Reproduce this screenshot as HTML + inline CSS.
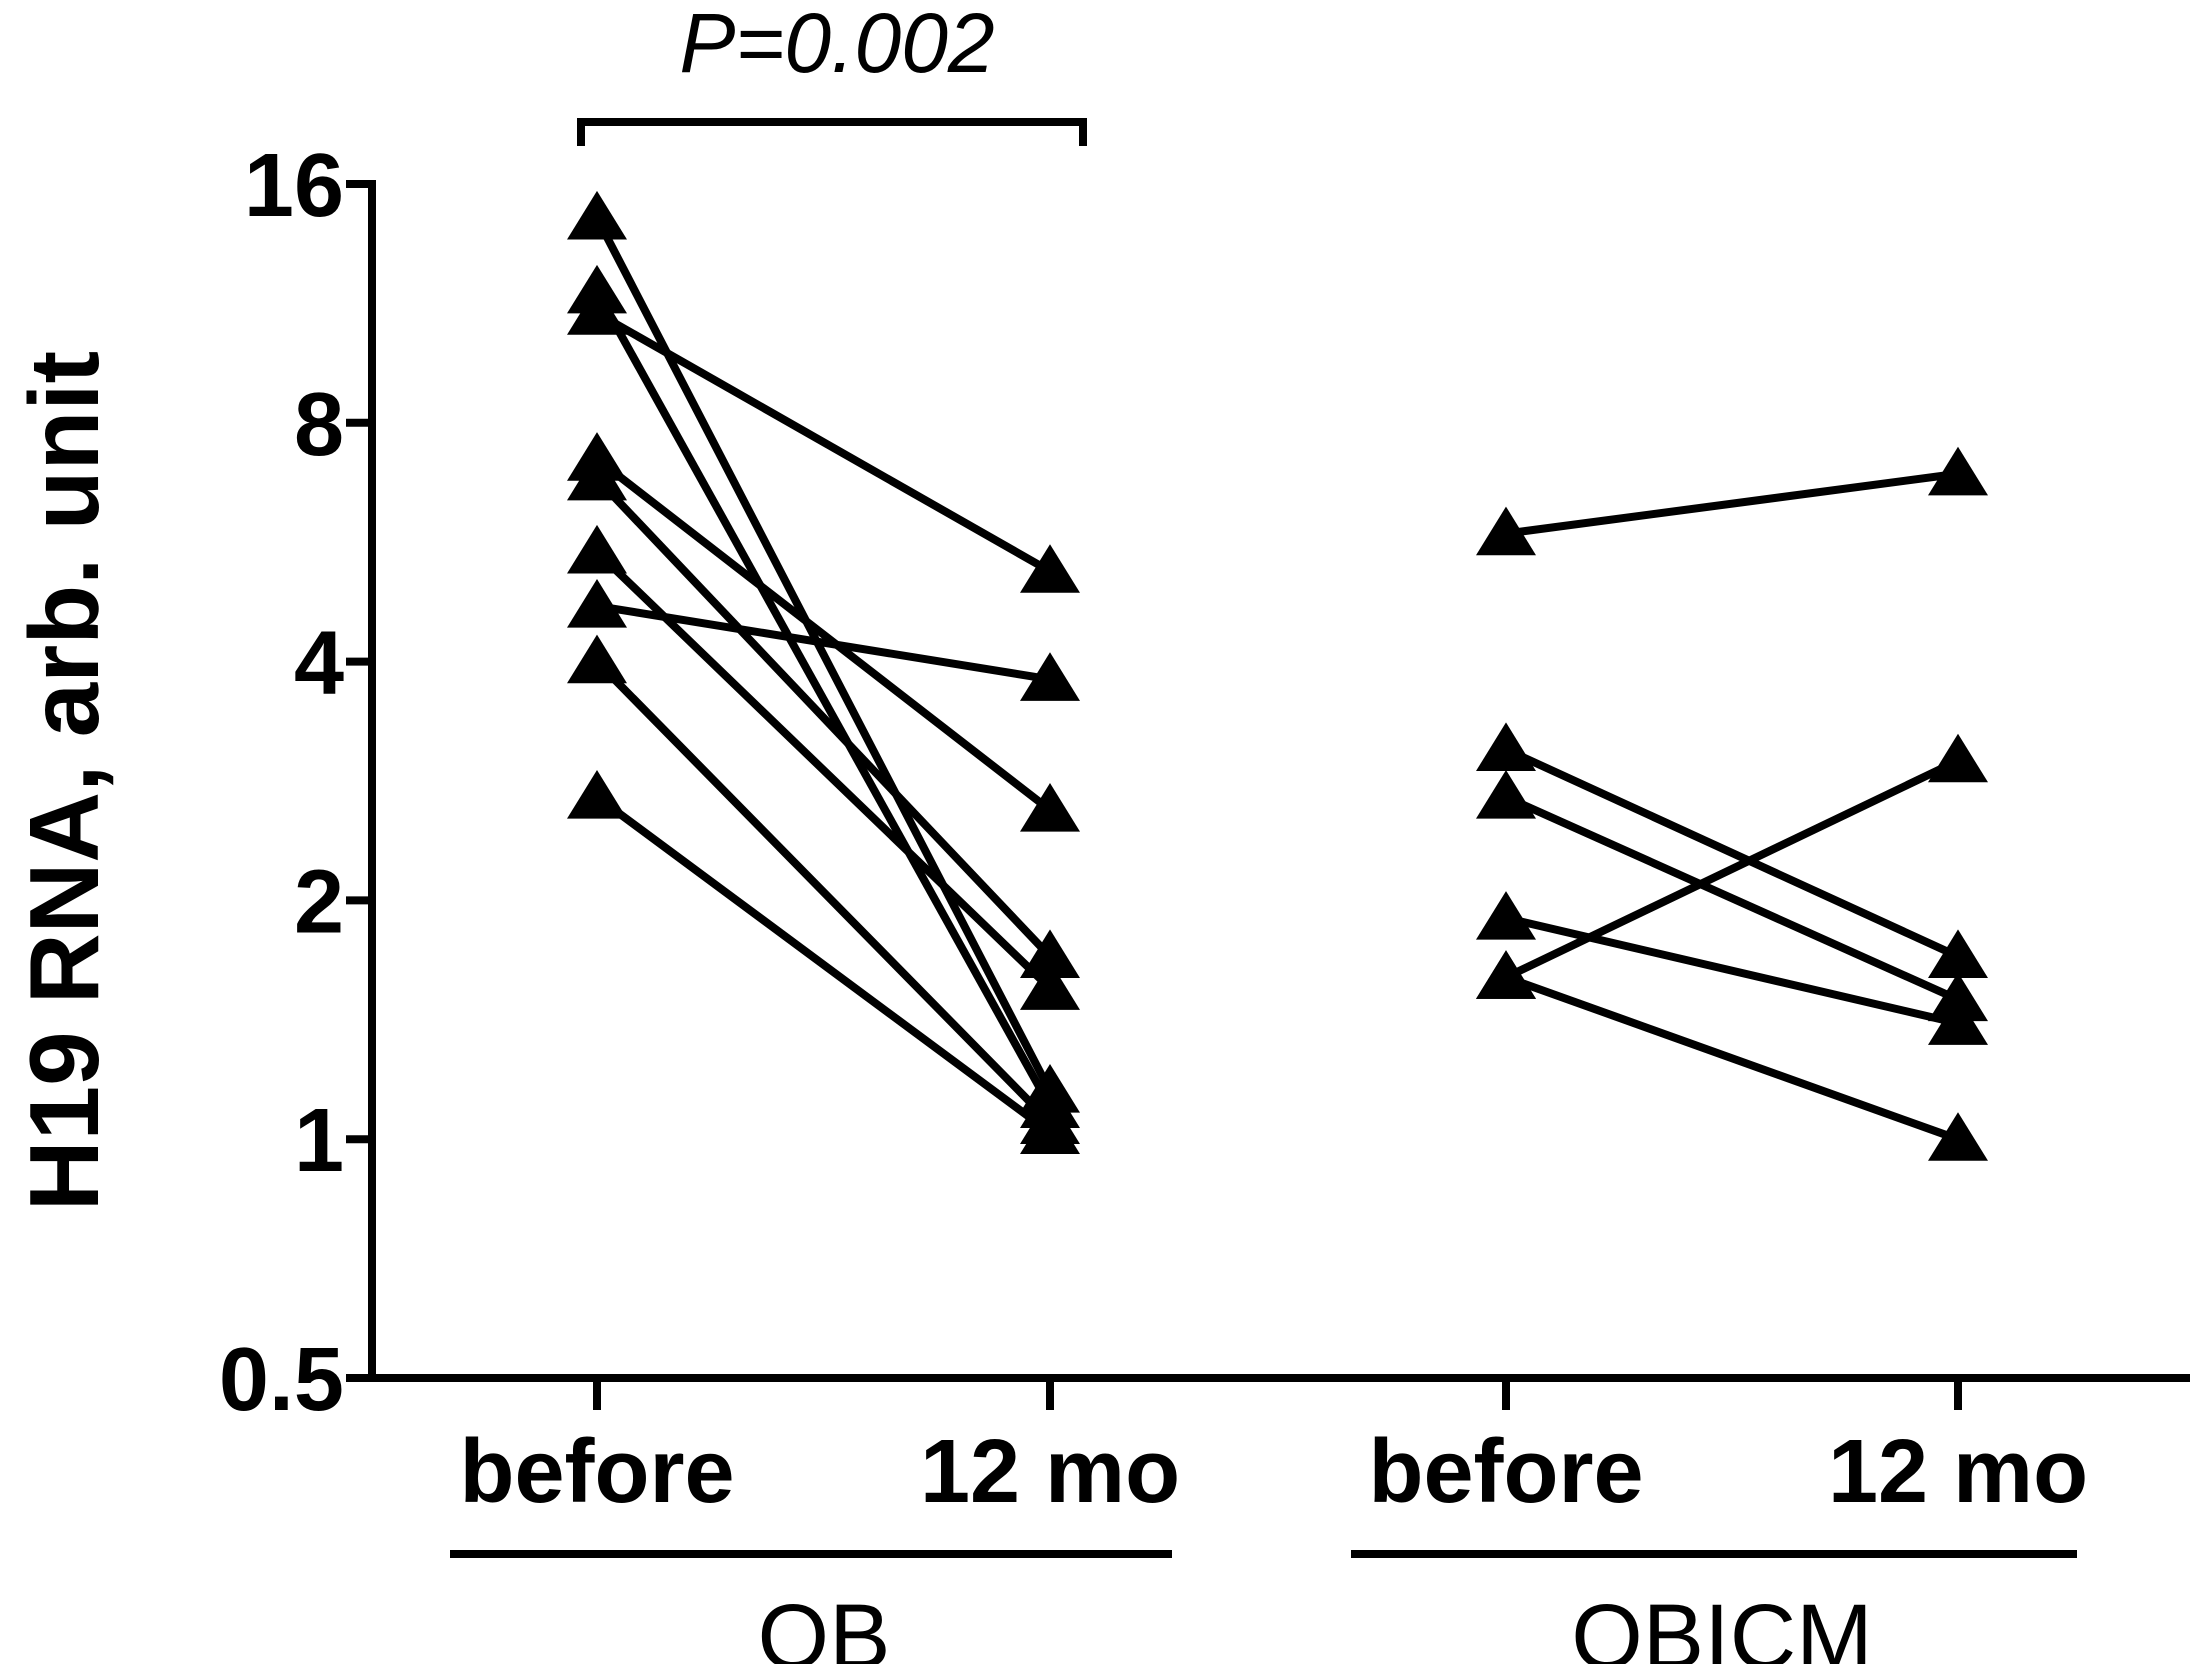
<!DOCTYPE html>
<html><head><meta charset="utf-8">
<style>
html,body{margin:0;padding:0;background:#fff;}
svg{display:block;font-family:"Liberation Sans",Arial,sans-serif;}
</style></head>
<body>
<svg id="chart" width="2196" height="1664" viewBox="0 0 2196 1664" xmlns="http://www.w3.org/2000/svg">
<g id="plot"></g>
</svg>
<script>
const categories = ["before","12 mo","before","12 mo"];
const groupLabels = ["OB","OBICM"];
const yTicks = [0.5,1,2,4,8,16];
const yTickLabels = ["0.5","1","2","4","8","16"];
const obBefore = [14.5,11.7,11.0,7.2,6.8,5.5,4.7,4.0,2.7];
const obAfter  = [1.15,1.1,5.2,2.6,1.7,1.55,3.8,1.05,1.02];
const icmBefore = [5.8,3.1,2.7,1.9,1.6,1.6];
const icmAfter  = [6.9,1.7,1.5,1.4,3.0,1.0];

const NS="http://www.w3.org/2000/svg";
const g=document.getElementById('plot');
const axX=372, axY=1378, yTop=184, xEnd=2190;
const catX=[597,1050,1506,1958];
function yS(v){return axY-(Math.log2(v)-Math.log2(0.5))*(axY-yTop)/5;}
function xS(i){return catX[i];}
function mk(tag,attrs,parent){const e=document.createElementNS(NS,tag);for(const k in attrs)e.setAttribute(k,attrs[k]);(parent||g).appendChild(e);return e;}

let e=mk('line',{x1:axX,y1:yTop-4,x2:axX,y2:axY,stroke:'#000','stroke-width':8});


e=mk('line',{x1:axX-4,y1:axY,x2:xEnd,y2:axY,stroke:'#000','stroke-width':8});


yTicks.forEach((v,i)=>{
  const y=yS(v);
  let t=mk('line',{x1:axX-26,y1:y,x2:axX,y2:y,stroke:'#000','stroke-width':8});
  
  
  let l=mk('text',{x:axX-28,y:y+32,'text-anchor':'end','font-size':90,'font-weight':'bold'});
  l.textContent=yTickLabels[i];
  
  
});
categories.forEach((c,i)=>{
  const x=xS(i);
  let t=mk('line',{x1:x,y1:axY,x2:x,y2:axY+32,stroke:'#000','stroke-width':8});
  
  
  let l=mk('text',{x:x,y:1502,'text-anchor':'middle','font-size':90,'font-weight':'bold'});
  l.textContent=c;
  
  
});
[[450,1172,824],[1351,2077,1722]].forEach((r,i)=>{
  let ln=mk('line',{x1:r[0],y1:1554,x2:r[1],y2:1554,stroke:'#000','stroke-width':8});
  
  
  let l=mk('text',{x:r[2],y:1668,'text-anchor':'middle','font-size':92});
  l.textContent=groupLabels[i];
  
  
});
e=mk('text',{x:0,y:0,'text-anchor':'middle','font-size':98,'font-weight':'bold',transform:'translate(98,781) rotate(-90)'});
e.textContent='H19 RNA, arb. unit';


e=mk('path',{d:'M581,146 V122 H1083 V146',fill:'none',stroke:'#000','stroke-width':8});


e=mk('text',{x:837,y:72,'text-anchor':'middle','font-size':84,'font-style':'italic'});
e.textContent='P=0.002';



function tri(x,y){
  const s=27;
  const p=mk('polygon',{points:`${x},${y-s} ${x-s-3},${y+s*0.8} ${x+s+3},${y+s*0.8}`,fill:'#000'});
  
  
}
function pairs(b,a,i0,name){
  b.forEach((v,k)=>{
    const l=mk('line',{x1:xS(i0),y1:yS(v),x2:xS(i0+1),y2:yS(a[k]),stroke:'#000','stroke-width':8});
    
    
  });
  b.forEach((v,k)=>{tri(xS(i0),yS(v));tri(xS(i0+1),yS(a[k]));});
}
pairs(obBefore,obAfter,0,'ob-patient-line');
pairs(icmBefore,icmAfter,2,'obicm-patient-line');
</script>
</body></html>
